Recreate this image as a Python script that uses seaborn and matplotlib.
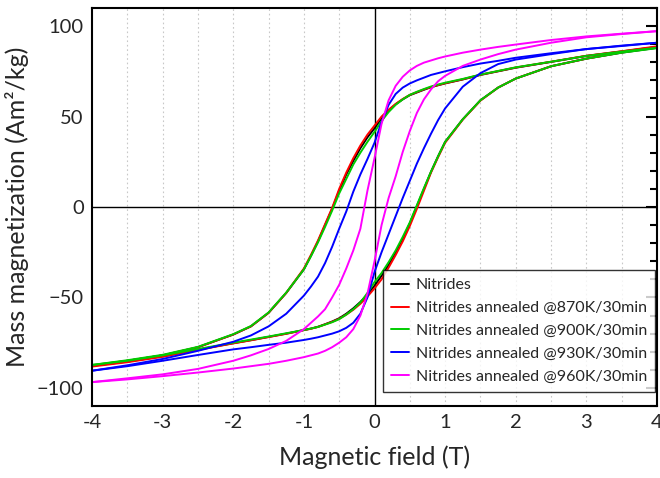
import numpy as np
import pandas as pd
import matplotlib
matplotlib.use("Agg")
import matplotlib.pyplot as plt
import seaborn as sns
from matplotlib.ticker import MultipleLocator
from matplotlib.lines import Line2D

# ===============================
# DATA
# ===============================
field = [-4, -3.5, -3, -2.5, -2, -1.75, -1.5, -1.25, -1, -0.9, -0.8, -0.7, -0.6,
         -0.5, -0.4, -0.3, -0.2, -0.1, 0, 0.1, 0.2, 0.3, 0.4, 0.5, 0.6, 0.7,
         0.8, 0.9, 1, 1.25, 1.5, 1.75, 2, 2.5, 3, 3.5, 4]

# descending branch (upper) and ascending branch (lower)
nit_up = [-87.8, -85, -82, -77.5, -70.5, -66, -58.5, -47.5, -34.5, -27, -19, -10, -1,
          9, 18, 25.5, 32.5, 38.5, 43.5, 49, 53.3, 56.8, 59.5, 61.8, 63.3, 64.8,
          66.2, 67.3, 68.3, 70.5, 73, 75, 77, 80.2, 83.5, 86, 88.5]
nit_dn = [-87.8, -85.5, -82.5, -78.8, -75.3, -73.6, -71.8, -70, -68, -67.2, -66.2,
          -64.8, -63.3, -61.5, -59, -56, -52.5, -48.5, -43.5, -38, -32, -25, -17.5,
          -9, 0.5, 10, 19.5, 28, 36, 48.5, 59, 66, 71, 77.8, 82, 85.3, 88]

k870_up = [-87.5, -85, -82, -77.5, -70.5, -66, -58.5, -47.5, -34, -26.5, -18.5, -9.5,
           -0.5, 10, 19, 27, 34, 40, 45, 50, 53.8, 57, 59.7, 62, 63.5, 65, 66.3,
           67.4, 68.4, 70.6, 73.1, 75.1, 77.1, 80.3, 83.6, 86.1, 88.8]
k870_dn = [-88.2, -85.8, -82.8, -79, -75.4, -73.7, -71.9, -70.1, -68.1, -67.3, -66.3,
           -64.9, -63.5, -61.8, -59.5, -56.8, -53.5, -49.5, -45, -40, -33.5, -26.5,
           -19, -10.5, -1, 9, 19, 27.5, 35.5, 48.3, 58.8, 66, 71, 77.8, 82, 85.5, 88.5]

k900_up = [-87.3, -84.7, -81.7, -77.3, -70.3, -65.8, -58.3, -47.3, -34.5, -27.2,
           -19.5, -11, -2, 7.5, 15.5, 23.5, 30, 36, 41.5, 47.5, 52.5, 56.5, 59.5,
           62, 63.7, 65.2, 66.6, 67.7, 68.7, 70.8, 73.2, 75.2, 77.2, 80.3, 83.5,
           85.9, 88]
k900_dn = [-87.3, -85, -82, -78.5, -75, -73.3, -71.6, -69.8, -68, -67.2, -66.3,
           -65, -63.7, -62, -59.5, -56.5, -52.8, -47.5, -41.5, -36.5, -30.5, -24,
           -16.5, -8.5, 1, 10.5, 19.5, 28, 36, 48.5, 59, 66, 71, 77.8, 82, 85.3, 87.8]

k930_up = [-90.5, -87.5, -84, -79.5, -74.5, -71, -66, -59, -49, -44, -38.5, -31,
           -22, -12, -2.5, 8.5, 18, 26.5, 35.5, 47, 56.5, 62.5, 66, 68.3, 70,
           71.5, 73, 74, 75, 77.3, 79.3, 80.8, 82.5, 85, 87.3, 89.2, 90.8]
k930_dn = [-90.5, -88, -85, -81.8, -78.7, -77.5, -76.2, -75, -73.5, -72.8, -72, -71,
           -70, -68.7, -66.8, -64, -59, -50, -36, -25, -15, -5, 5, 14.5, 24, 32.5,
           40.5, 48, 54.5, 66.5, 74, 79, 81.5, 84.5, 87.3, 89, 90.8]

k960_up = [-96.8, -94.7, -92.5, -89.5, -85, -82, -78.5, -74, -67.5, -64, -60.5,
           -56.5, -50, -43, -34, -24, -12, 9, 27, 46, 59, 67, 72, 75.5, 78, 79.8,
           81, 82.2, 83.2, 85.3, 87, 88.5, 89.8, 92.3, 94.3, 95.8, 97.2]
k960_dn = [-96.8, -95.3, -93.5, -91.5, -89.3, -88, -86.7, -85, -83, -82, -81, -79.5,
           -77.5, -75, -72, -67.5, -60, -48, -30, -10, 5, 17, 30.5, 42, 52, 59.5,
           65, 69.5, 72.5, 78, 81.5, 84.5, 87, 90.8, 93.8, 95.6, 97.2]

labels = ["Nitrides",
          "Nitrides annealed @870K/30min",
          "Nitrides annealed @900K/30min",
          "Nitrides annealed @930K/30min",
          "Nitrides annealed @960K/30min"]
colors = ["#000000", "#ff0000", "#00cc00", "#0000ff", "#ff00ff"]
branches = [(nit_up, nit_dn), (k870_up, k870_dn), (k900_up, k900_dn),
            (k930_up, k930_dn), (k960_up, k960_dn)]

rows = []
for lab, (up, dn) in zip(labels, branches):
    for h, m in zip(field, up):
        rows.append((lab, "up", h, m))
    for h, m in zip(field, dn):
        rows.append((lab, "down", h, m))
df = pd.DataFrame(rows, columns=["sample", "branch", "field", "moment"])

# ===============================
# PLOT
# ===============================
sns.set_style("white")
plt.rcParams["font.family"] = ["Lato", "DejaVu Sans"]

fig = plt.figure(figsize=(6.6, 4.78), dpi=100)
ax = fig.add_axes([92 / 660, 1 - 406 / 478, 565 / 660, 398 / 478])

for x in np.arange(-3.5, 4, 0.5):
    if x != 0:
        ax.axvline(x, color="#c8c8c8", lw=0.8, ls=(0, (1.5, 2.5)), zorder=0)
ax.axhline(0, color="black", lw=1.0, zorder=1)
ax.axvline(0, color="black", lw=1.0, zorder=1)

sns.lineplot(data=df, x="field", y="moment", hue="sample", units="branch",
             estimator=None, sort=False, palette=dict(zip(labels, colors)),
             hue_order=labels, lw=1.4, legend=False, ax=ax, zorder=2)

ax.set_xlim(-4, 4)
ax.set_ylim(-110, 110)
ax.xaxis.set_major_locator(MultipleLocator(1))
ax.xaxis.set_minor_locator(MultipleLocator(0.5))
ax.yaxis.set_major_locator(MultipleLocator(50))
ax.yaxis.set_minor_locator(MultipleLocator(10))
ax.tick_params(which="both", direction="in", width=1.5, color="black",
               top=False, right=True, labelsize=14.5, pad=6)
ax.tick_params(which="major", length=8)
ax.tick_params(which="minor", length=5)
ax.set_xticklabels([str(int(v)) for v in ax.get_xticks()])
for s in ax.spines.values():
    s.set_linewidth(1.5)
    s.set_color("black")

ax.set_xlabel("Magnetic field (T)", fontsize=18, labelpad=10)
ax.set_ylabel("Mass magnetization (Am²/kg)", fontsize=18, labelpad=6)

handles = [Line2D([], [], color=c, lw=1.4) for c in colors]
leg = ax.legend(handles, labels, loc="lower right",
                bbox_to_anchor=(1 - 2 / 565, 14 / 398), borderaxespad=0,
                fontsize=11.5, frameon=True, fancybox=False, handlelength=1.1,
                handletextpad=0.45, labelspacing=0.55, borderpad=0.5)
leg.get_frame().set_edgecolor("black")
leg.get_frame().set_linewidth(1.0)

fig.savefig("out.png", dpi=100)
